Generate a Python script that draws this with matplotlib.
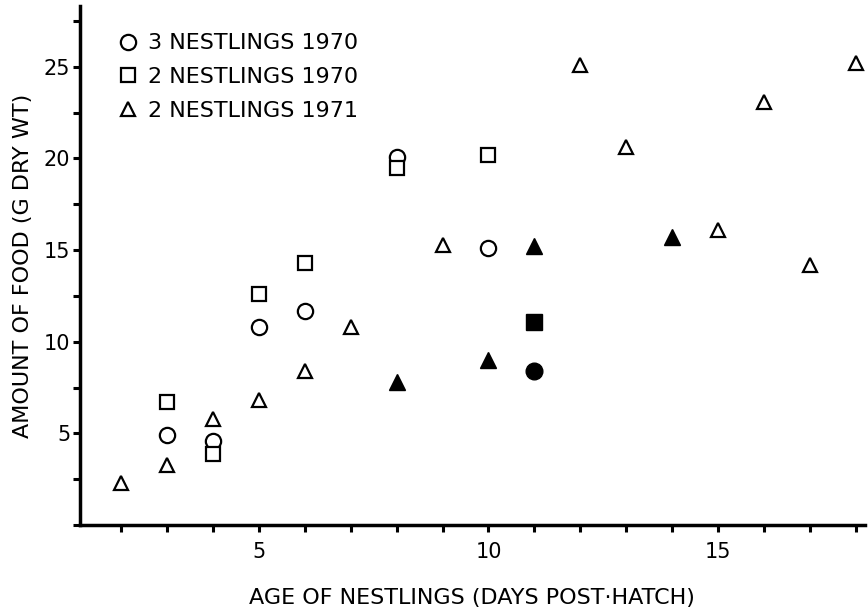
import matplotlib
matplotlib.use("Agg")
import matplotlib.pyplot as plt
from matplotlib.ticker import MultipleLocator, FixedLocator

# 3 nestlings 1970 (circles)
circ_x = [3, 4, 5, 6, 8, 10]
circ_y = [4.9, 4.6, 10.8, 11.7, 20.1, 15.1]
circ_fill_x = [11]
circ_fill_y = [8.4]

# 2 nestlings 1970 (squares)
sq_x = [3, 4, 5, 6, 8, 10]
sq_y = [6.7, 3.9, 12.6, 14.3, 19.5, 20.2]
sq_fill_x = [11]
sq_fill_y = [11.1]

# 2 nestlings 1971 (triangles)
tri_x = [2, 3, 4, 5, 6, 7, 9, 12, 13, 15, 16, 17, 18]
tri_y = [2.3, 3.3, 5.8, 6.8, 8.4, 10.8, 15.3, 25.1, 20.6, 16.1, 23.1, 14.2, 25.2]
tri_fill_x = [8, 10, 11, 14]
tri_fill_y = [7.8, 9.0, 15.2, 15.7]

legend_labels = ["3 NESTLINGS 1970", "2 NESTLINGS 1970", "2 NESTLINGS 1971"]

fig = plt.figure(figsize=(8.68, 6.13), dpi=100)
ax = fig.add_axes([0.092, 0.1436, 0.9045, 0.846])

open_kw = dict(linestyle="none", markerfacecolor="white", markeredgecolor="black",
               markeredgewidth=1.6)
fill_kw = dict(linestyle="none", color="black")

ax.plot(circ_x, circ_y, marker="o", markersize=11, label=legend_labels[0], **open_kw)
ax.plot(sq_x, sq_y, marker="s", markersize=10, label=legend_labels[1], **open_kw)
ax.plot(tri_x, tri_y, marker="^", markersize=10, label=legend_labels[2], **open_kw)

ax.plot(circ_fill_x, circ_fill_y, marker="o", markersize=12, **fill_kw)
ax.plot(sq_fill_x, sq_fill_y, marker="s", markersize=11, **fill_kw)
ax.plot(tri_fill_x, tri_fill_y, marker="^", markersize=11, **fill_kw)

ax.set_xlim(1.1, 18.2)
ax.set_ylim(0, 28.3)

for side in ["top", "right"]:
    ax.spines[side].set_visible(False)
for side in ["left", "bottom"]:
    ax.spines[side].set_linewidth(2.5)

ax.xaxis.set_major_locator(FixedLocator([5, 10, 15]))
ax.xaxis.set_minor_locator(MultipleLocator(1))
ax.yaxis.set_major_locator(FixedLocator([5, 10, 15, 20, 25]))
ax.yaxis.set_minor_locator(MultipleLocator(2.5))
ax.tick_params(which="both", direction="out", length=5, width=2.2, colors="black")
ax.tick_params(axis="x", which="major", labelsize=15, pad=7)
ax.tick_params(axis="y", which="major", labelsize=15, pad=2)

ax.set_xlabel("AGE OF NESTLINGS (DAYS POST·HATCH)", fontsize=16, labelpad=19)
ax.set_ylabel("AMOUNT OF FOOD (G DRY WT)", fontsize=16, labelpad=8)

ax.legend(loc="upper left", frameon=False, fontsize=16, handlelength=0.8,
          handletextpad=0.5, labelspacing=0.62, borderaxespad=0.3,
          bbox_to_anchor=(0.03, 0.978))

fig.savefig("out.png", dpi=100)
